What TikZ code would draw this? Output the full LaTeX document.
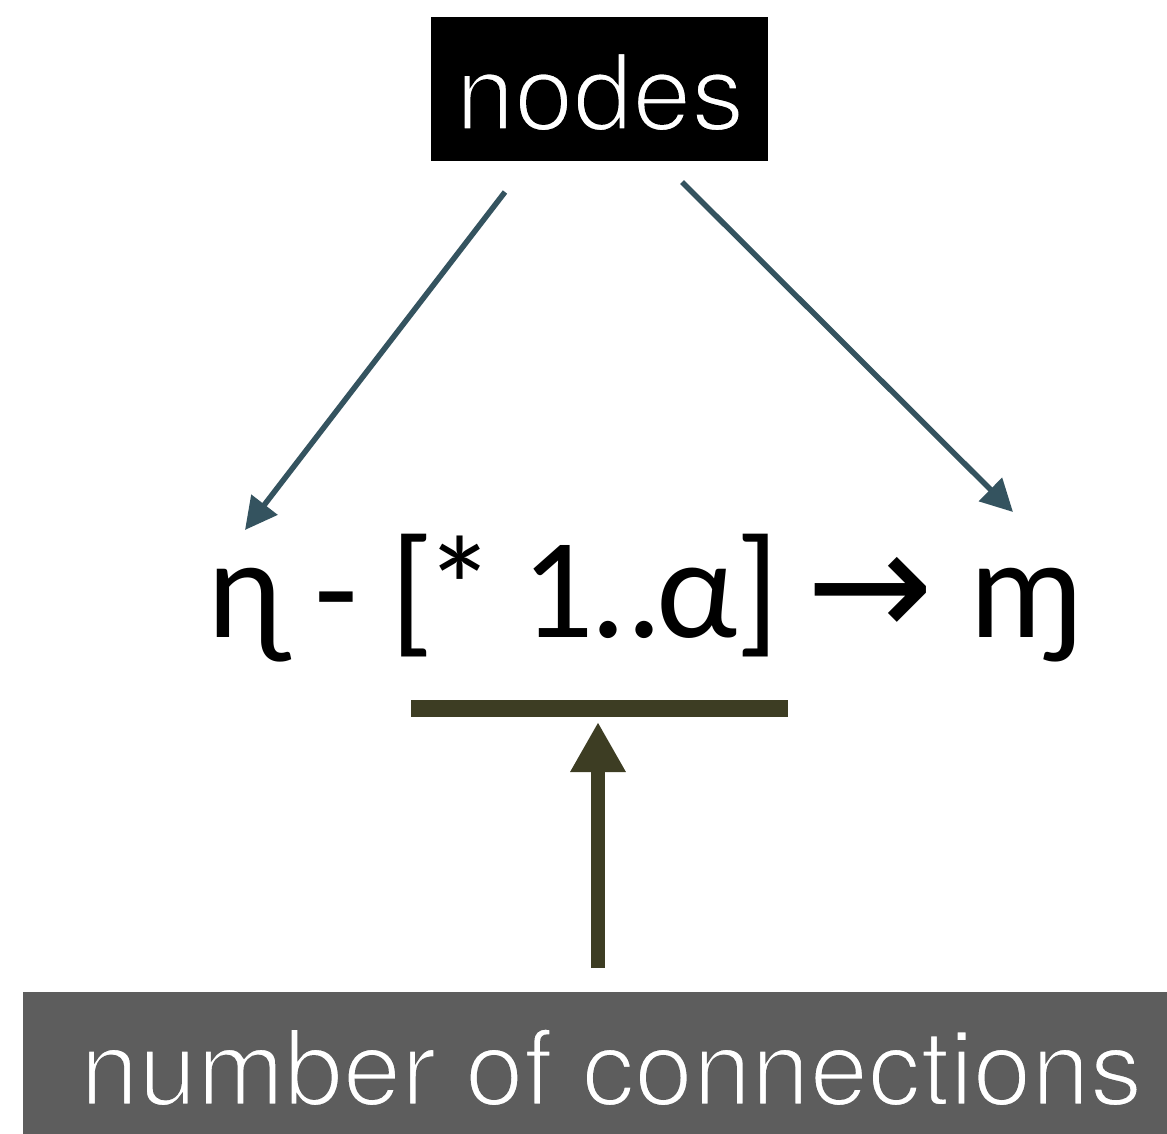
\documentclass[tikz,border=0pt]{standalone}
\usepackage{fontspec}
\setmainfont{TeX Gyre Heros}
\newfontfamily\formulafont{Carlito}
\newfontfamily\arrowfont{DejaVu Sans}
\usetikzlibrary{arrows.meta}
\definecolor{teal}{HTML}{34535F}
\definecolor{olive}{HTML}{3D3D23}
\definecolor{boxgray}{HTML}{5D5D5D}
\newcommand{\thinon}[1]{\special{pdf:literal direct 2 Tr 3 w #1 RG}}
\newcommand{\thinoff}{\special{pdf:literal direct 0 Tr 0.4 w}}
\begin{document}
\begin{tikzpicture}[x=1pt,y=-1pt,
  label/.style={inner sep=0pt, text=white, font=\fontsize{106}{110}\selectfont},
  conn/.style={draw=teal, line width=5.5pt, -{Triangle[length=32pt,width=32pt]}},
  olivearrow/.style={draw=olive, line width=14pt, -{Triangle[length=50pt,width=52pt]}}]
\useasboundingbox (0,0) rectangle (1167,1134);
\fill[black] (431,17) rectangle (768,161);
\node[label, anchor=base] (nodes) at (600,130) {\thinon{0 0 0}nodes\thinoff};
\node[inner sep=0pt, anchor=base west, font=\formulafont\fontsize{143}{150}\selectfont] (formula) at (207,637) {ɳ - [\kern-10pt*\kern-7pt{} 1\kern-3pt..\kern-6ptα\kern-2pt]\kern-6pt{} {\arrowfont\fontsize{152}{150}\selectfont →}\kern4pt{} ɱ};
\coordinate (ls) at (505,192);
\coordinate (le) at (245,530);
\coordinate (rs) at (682,182);
\coordinate (re) at (1013,512);
\draw[conn] (ls) -- (le);
\draw[conn] (rs) -- (re);
\fill[olive] (411,700) rectangle (788,717);
\coordinate (us) at (598,968);
\coordinate (ue) at (598,722);
\draw[olivearrow] (us) -- (ue);
\fill[boxgray] (23,992) rectangle (1167,1134);
\node[label, anchor=base west, font=\fontsize{105}{110}\selectfont] (conns) at (80,1105) {\thinon{0.365 0.365 0.365}number of connections\thinoff};
\end{tikzpicture}
\end{document}
